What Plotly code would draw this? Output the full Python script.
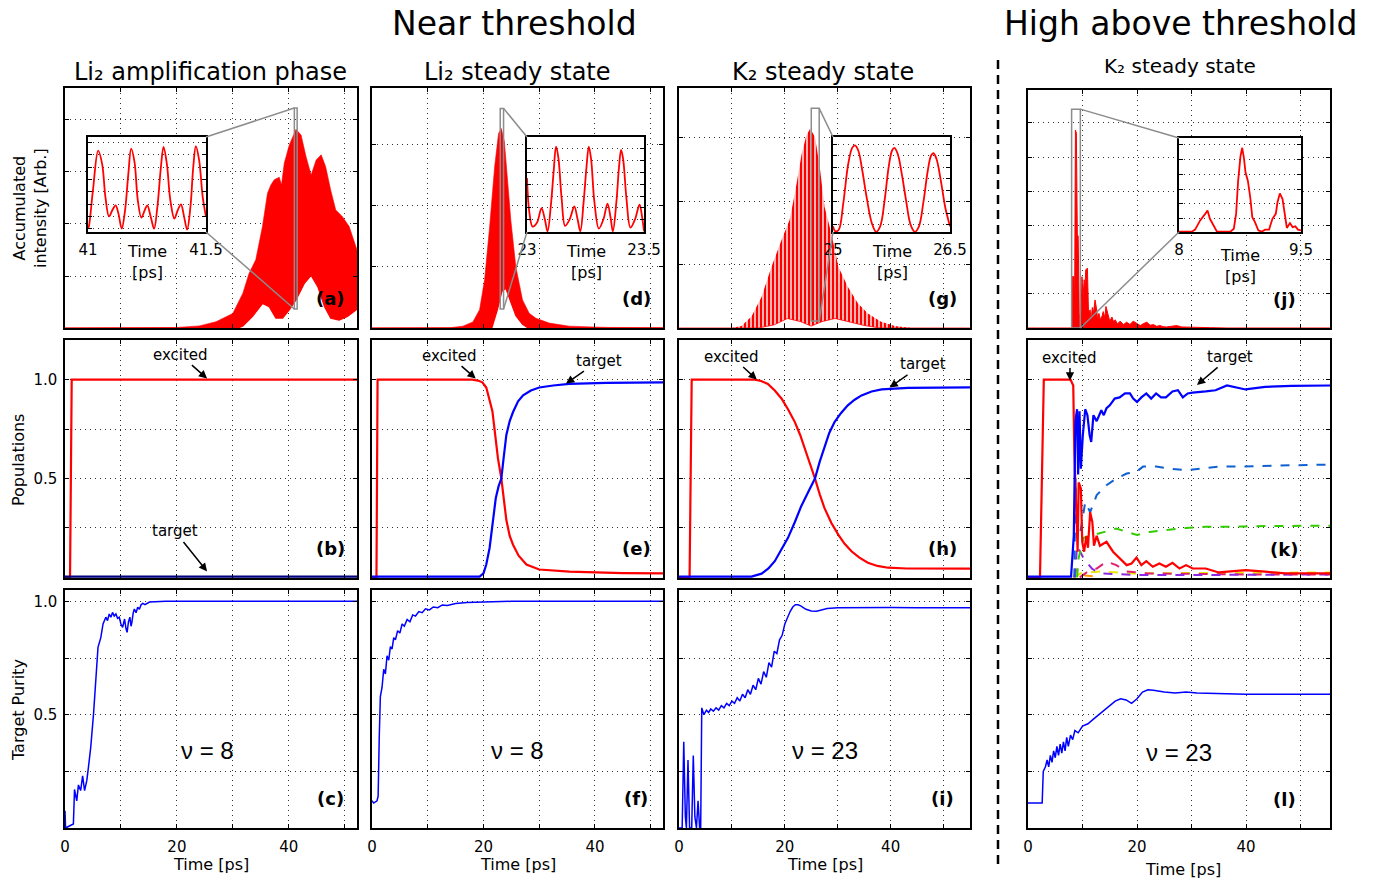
import plotly.graph_objects as go

W, H = 1375, 879
FONT = "DejaVu Sans"

# ---------------------------------------------------------------- data
# Row 1: accumulated intensity (envelopes of the fast oscillation)
A_T_UP = [0, 20, 24.0, 27.0, 30.0, 31.8, 32.9, 34.1, 35.3, 36.2, 36.8, 37.4, 38.3, 38.7, 39.2, 40.1, 41.3, 42.2, 43.1, 44.0, 44.9, 45.8, 46.6, 47.5, 48.4, 49.6, 50.8, 52.0, 52.2]
A_UP = [0, 0.01, 0.04, 0.12, 0.28, 0.67, 1.05, 1.31, 1.95, 2.59, 2.75, 2.85, 2.9, 2.75, 3.17, 3.52, 3.82, 3.71, 3.29, 2.94, 3.23, 3.33, 3.10, 2.65, 2.27, 2.14, 1.95, 1.56, 1.5]
A_T_LO = [0, 31.0, 31.8, 33.5, 35.3, 36.5, 37.7, 38.9, 40.1, 41.3, 42.8, 44.0, 45.2, 46.4, 47.5, 49.0, 50.5, 52.0, 52.2]
A_LO = [0, 0, 0.04, 0.22, 0.47, 0.41, 0.19, 0.19, 0.35, 0.54, 0.86, 1.01, 0.79, 0.41, 0.19, 0.15, 0.22, 0.35, 0.36]

D_T_UP = [0, 14, 16.3, 18.1, 19.3, 20.2, 21.1, 22.0, 22.7, 23.2, 23.75, 24.3, 24.9, 25.8, 27.0, 28.2, 29.4, 31.8, 35.4, 42, 52.2]
D_UP = [0, 0.005, 0.03, 0.1, 0.3, 0.79, 1.66, 2.64, 3.19, 3.27, 3.05, 2.43, 1.77, 1.0, 0.46, 0.24, 0.16, 0.08, 0.03, 0.01, 0.005]
D_T_LO = [0, 21.5, 22.5, 23.3, 24.0, 24.8, 25.8, 27.0, 28.0, 52.2]
D_LO = [0, 0, 0.3, 0.6, 0.65, 0.45, 0.2, 0.06, 0, 0]

G_T_UP = [0, 10, 11.8, 13.7, 15.6, 17.5, 19.4, 20.9, 21.9, 23.2, 24.1, 24.8, 25.7, 26.6, 27.5, 28.8, 30.1, 31.9, 33.8, 35.7, 38.2, 40.8, 44, 55]
G_UP = [0, 0, 0.03, 0.18, 0.49, 0.97, 1.39, 1.7, 2.12, 2.75, 3.04, 3.14, 3.01, 2.54, 1.91, 1.49, 0.97, 0.65, 0.39, 0.23, 0.1, 0.03, 0.0, 0]
G_T_LO = [0, 15, 18, 20.5, 23, 25, 27, 29.5, 32, 35, 38, 55]
G_LO = [0, 0, 0.05, 0.15, 0.1, 0.03, 0.1, 0.15, 0.1, 0.04, 0, 0]

J_T = [0, 8.0, 8.1, 8.2, 8.45, 8.55, 8.7, 8.87, 8.95, 9.05, 9.2, 9.3, 9.4, 9.66, 9.8, 9.9, 10.1, 10.3, 10.45, 10.6, 10.9, 11.0, 11.1, 11.4, 11.6, 11.8, 12.0, 12.3, 12.6, 12.8, 13.0, 13.3, 13.6, 13.8, 14.1, 14.3, 14.7, 15.0, 15.4, 15.7, 16.0, 16.4, 16.9, 17.5, 18.1, 18.7, 19.3, 20.0, 20.6, 21.2, 21.8, 22.4, 23.0, 23.6, 24.2, 24.8, 25.4, 26.3, 27.3, 28.2, 29.1, 30.3, 31.6, 33.5, 36.5, 55.4]
J_V = [0, 0, 1.5, 1.5, 1.5, 0.6, 5.79, 5.7, 3.5, 2.72, 2.7, 1.2, 0.43, 0.0, 0.9, 1.5, 0.9, 1.41, 1.2, 1.7, 1.75, 0.9, 0.43, 0.53, 0.24, 0.6, 0.43, 0.82, 0.53, 0.2, 0.43, 0.24, 0.35, 0.48, 0.3, 0.63, 0.34, 0.2, 0.32, 0.18, 0.24, 0.12, 0.2, 0.1, 0.17, 0.1, 0.2, 0.12, 0.07, 0.13, 0.17, 0.08, 0.1, 0.05, 0.07, 0.04, 0.03, 0.05, 0.07, 0.03, 0.03, 0.025, 0.02, 0.01, 0.0, 0.0]

# Insets (zoom of the fast oscillation)
IA_T = [41.0, 41.003, 41.021, 41.043, 41.06, 41.074, 41.089, 41.103, 41.117, 41.129, 41.143, 41.157, 41.171, 41.183, 41.197, 41.211, 41.226, 41.24, 41.251, 41.266, 41.28, 41.294, 41.309, 41.32, 41.334, 41.349, 41.366, 41.38, 41.394, 41.406, 41.42, 41.434, 41.446, 41.457, 41.471, 41.486, 41.5]
IA_V = [0.3, 0.4, 3.4, 6.6, 5.5, 2.8, 1.27, 1.76, 2.16, 1.49, 0.27, 1.76, 4.73, 6.76, 5.68, 2.57, 1.16, 1.76, 2.16, 1.22, 0.27, 2.03, 5.27, 6.89, 5.54, 2.57, 1.08, 1.76, 2.24, 1.35, 0.19, 2.03, 5.27, 6.95, 5.81, 2.84, 1.22]

ID_T = [23.0, 23.01, 23.024, 23.043, 23.062, 23.076, 23.088, 23.102, 23.114, 23.124, 23.134, 23.148, 23.163, 23.183, 23.202, 23.216, 23.228, 23.242, 23.254, 23.264, 23.274, 23.288, 23.307, 23.327, 23.344, 23.357, 23.367, 23.382, 23.393, 23.402, 23.411, 23.425, 23.442, 23.462, 23.481, 23.491, 23.5]
ID_V = [4.58, 1.68, 0.46, 0.81, 2.03, 1.1, 0.05, 2.26, 5.16, 7.25, 6.32, 2.84, 0.52, 1.1, 2.17, 1.1, 0.06, 2.55, 5.45, 7.25, 6.17, 2.55, 0.29, 1.1, 2.41, 1.25, 0.06, 2.55, 5.45, 6.96, 6.17, 2.84, 0.38, 1.1, 2.32, 1.39, 0.06]

IG_T = [25.0, 25.03, 25.074, 25.13, 25.195, 25.246, 25.281, 25.324, 25.376, 25.432, 25.497, 25.553, 25.605, 25.661, 25.713, 25.757, 25.787, 25.83, 25.886, 25.938, 25.994, 26.05, 26.102, 26.158, 26.215, 26.258, 26.288, 26.327, 26.383, 26.44, 26.5]
IG_V = [0.5, 0.06, 0.2, 2.41, 5.94, 7.35, 7.56, 7.12, 5.35, 3.0, 0.79, 0.02, 0.5, 2.71, 5.65, 7.12, 7.35, 6.82, 4.91, 2.71, 0.65, 0.02, 0.5, 2.56, 5.35, 6.68, 6.88, 6.38, 4.47, 2.12, 0.5]

IJ_T = [8.0, 8.157, 8.198, 8.26, 8.322, 8.351, 8.38, 8.426, 8.467, 8.632, 8.674, 8.702, 8.727, 8.756, 8.777, 8.798, 8.818, 8.847, 8.876, 8.901, 8.934, 8.975, 9.017, 9.058, 9.107, 9.149, 9.19, 9.211, 9.24, 9.273, 9.306, 9.326, 9.364, 9.397, 9.43, 9.463, 9.5]
IJ_V = [0.02, 0.02, 0.16, 0.78, 1.22, 1.44, 0.89, 0.44, 0.02, 0.02, 0.22, 1.22, 3.44, 5.11, 5.67, 5.0, 4.0, 3.44, 2.33, 1.0, 0.67, 0.11, 0.02, 0.16, 0.16, 0.89, 1.22, 2.0, 2.6, 2.22, 1.0, 0.27, 0.6, 0.33, 0.38, 0.16, 0.11]

# Row 2: populations
B_T_EXC = [0, 0.9, 1.2, 52.2]
B_EXC = [0, 0, 1, 1]
B_T_TGT = [0, 52.2]
B_TGT = [0.004, 0.004]

E_T_EXC = [0, 0.8, 1.0, 18.0, 19.0, 19.8, 20.5, 21.1, 21.6, 22.1, 22.6, 23.2, 23.7, 24.1, 24.7, 25.3, 26.3, 27.7, 30, 35.4, 45, 52.2]
E_EXC = [0, 0, 1, 1, 0.995, 0.986, 0.96, 0.9, 0.84, 0.72, 0.6, 0.5, 0.38, 0.29, 0.21, 0.165, 0.11, 0.065, 0.04, 0.029, 0.022, 0.02]
E_T_TGT = [0, 19.3, 20.0, 20.5, 21.1, 21.7, 22.2, 22.7, 23.2, 23.6, 24.1, 24.7, 25.3, 26.2, 27.1, 28.5, 30, 32.5, 35.4, 42, 52.2]
E_TGT = [0.004, 0.004, 0.02, 0.065, 0.15, 0.28, 0.4, 0.46, 0.5, 0.6, 0.72, 0.79, 0.836, 0.89, 0.92, 0.945, 0.96, 0.97, 0.978, 0.983, 0.986]

H_T_EXC = [0, 2.0, 2.4, 14.3, 15.5, 16.8, 18.1, 19.4, 20.6, 21.9, 22.9, 23.8, 24.8, 25.7, 26.6, 27.5, 28.8, 30.1, 31.3, 32.6, 34.1, 35.7, 37.5, 39.5, 43, 55]
H_EXC = [0, 0, 1.0, 1.0, 0.993, 0.978, 0.945, 0.903, 0.85, 0.785, 0.72, 0.652, 0.575, 0.5, 0.42, 0.35, 0.275, 0.216, 0.17, 0.132, 0.1, 0.074, 0.058, 0.049, 0.045, 0.044]
H_T_TGT = [0, 13.7, 15.6, 16.9, 18.1, 19.4, 20.6, 21.9, 23.1, 24.4, 25.7, 26.6, 27.5, 28.4, 29.4, 30.6, 31.9, 33.2, 34.5, 36.4, 38.3, 43.3, 55]
H_TGT = [0.004, 0.004, 0.019, 0.045, 0.082, 0.14, 0.2, 0.28, 0.36, 0.43, 0.5, 0.585, 0.66, 0.73, 0.785, 0.83, 0.87, 0.898, 0.92, 0.94, 0.95, 0.958, 0.961]

K_T_EXC = [0, 2.2, 2.9, 7.8, 8.3, 8.5, 8.85, 9.1, 9.3, 9.7, 9.95, 10.3, 10.7, 11.0, 11.4, 11.8, 12.1, 12.6, 13.2, 14.4, 15.6, 16.8, 18.1, 19.0, 19.9, 20.8, 21.7, 22.9, 24.1, 25.3, 26.5, 27.8, 29.0, 30.2, 32.6, 35.0, 37.5, 39.9, 43.5, 47.2, 55.4]
K_EXC = [0, 0, 1.0, 1.0, 0.97, 0.63, 0.35, 0.13, 0.48, 0.45, 0.18, 0.13, 0.21, 0.15, 0.33, 0.28, 0.16, 0.21, 0.16, 0.18, 0.13, 0.096, 0.062, 0.07, 0.10, 0.062, 0.082, 0.054, 0.07, 0.054, 0.074, 0.045, 0.062, 0.045, 0.045, 0.025, 0.032, 0.037, 0.029, 0.02, 0.02]
K_T_TGT = [0, 7.9, 8.4, 8.7, 9.0, 9.2, 9.45, 9.7, 10.06, 10.5, 10.9, 11.3, 11.6, 12.0, 12.6, 13.0, 13.45, 13.9, 14.4, 15.0, 15.9, 16.8, 17.8, 18.7, 19.3, 20.0, 20.8, 21.7, 22.6, 23.5, 24.4, 25.3, 26.5, 27.5, 28.4, 29.3, 30.2, 32.6, 34.4, 36.5, 38.7, 39.9, 43.5, 48.4, 55.4]
K_TGT = [0.004, 0.004, 0.21, 0.79, 0.85, 0.52, 0.84, 0.55, 0.72, 0.85, 0.82, 0.72, 0.685, 0.82, 0.79, 0.82, 0.845, 0.82, 0.855, 0.87, 0.904, 0.91, 0.93, 0.93, 0.904, 0.887, 0.91, 0.93, 0.904, 0.93, 0.91, 0.91, 0.94, 0.946, 0.91, 0.93, 0.934, 0.94, 0.946, 0.97, 0.955, 0.95, 0.963, 0.968, 0.97]
K_T_DB = [8.5, 8.7, 9.1, 9.6, 10.5, 11.4, 12.6, 14.4, 16.2, 18.1, 19.9, 21.1, 23.5, 25.9, 29.0, 31.4, 35, 38.7, 43.5, 48.4, 55.4]
K_DB = [0.0, 0.5, 0.21, 0.23, 0.38, 0.33, 0.416, 0.466, 0.5, 0.525, 0.534, 0.56, 0.56, 0.55, 0.542, 0.55, 0.56, 0.56, 0.564, 0.567, 0.57]
K_T_GR = [9.0, 9.3, 10.2, 12.0, 13.8, 16.2, 18.1, 20.0, 22.3, 25.3, 29.0, 32.6, 37.5, 43.5, 55.4]
K_GR = [0.0, 0.1, 0.2, 0.214, 0.23, 0.247, 0.23, 0.214, 0.23, 0.24, 0.25, 0.256, 0.256, 0.26, 0.261]
K_T_PU = [8.6, 9.0, 10.2, 11.7, 13.2, 20, 30, 40, 55.4]
K_PU = [0.0, 0.16, 0.096, 0.045, 0.02, 0.012, 0.012, 0.013, 0.015]
K_T_PK = [9.5, 11.0, 12.6, 14.4, 16.2, 18.1, 22, 30, 40, 55.4]
K_PK = [0.0, 0.03, 0.045, 0.08, 0.062, 0.03, 0.02, 0.018, 0.015, 0.015]
K_T_YE = [8.5, 9.6, 13.2, 19.3, 30, 40, 55.4]
K_YE = [0.0, 0.02, 0.03, 0.02, 0.022, 0.024, 0.025]
K_T_OR = [8.3, 9.0, 9.5, 10.5, 12]
K_OR = [0.0, 0.04, 0.02, 0.01, 0.005]

# Row 3: target purity
C_T = [0, 0.1, 1.5, 1.7, 2.1, 2.4, 2.8, 3.15, 3.5, 3.9, 4.2, 4.6, 5.1, 5.5, 5.9, 6.4, 6.8, 7.3, 7.6, 7.9, 8.2, 8.5, 8.8, 9.1, 9.4, 9.7, 10.0, 10.3, 10.65, 10.9, 11.1, 11.35, 11.6, 11.8, 11.96, 12.2, 12.4, 12.7, 13.0, 13.3, 13.6, 13.9, 14.3, 15.1, 18, 52.2]
C_V = [0.076, 0, 0.018, 0.17, 0.12, 0.19, 0.165, 0.23, 0.165, 0.21, 0.27, 0.356, 0.503, 0.68, 0.797, 0.84, 0.9, 0.93, 0.915, 0.944, 0.93, 0.951, 0.935, 0.944, 0.925, 0.93, 0.9, 0.885, 0.922, 0.88, 0.863, 0.91, 0.93, 0.89, 0.907, 0.95, 0.966, 0.95, 0.974, 0.965, 0.985, 0.991, 0.985, 0.997, 1.0, 1.0]

F_T = [0, 0.3, 0.9, 1.1, 1.3, 1.5, 1.8, 2.1, 2.4, 2.7, 3.0, 3.3, 3.6, 3.9, 4.2, 4.6, 5.0, 5.4, 5.8, 6.3, 6.8, 7.3, 7.8, 8.4, 9.0, 9.6, 10.3, 11, 11.8, 12.6, 13.5, 15, 17, 20, 25, 52.2]
F_V = [0.12, 0.11, 0.12, 0.14, 0.4, 0.58, 0.62, 0.7, 0.68, 0.76, 0.74, 0.8, 0.79, 0.84, 0.83, 0.87, 0.86, 0.9, 0.89, 0.92, 0.91, 0.94, 0.935, 0.955, 0.95, 0.967, 0.962, 0.975, 0.972, 0.984, 0.982, 0.99, 0.995, 0.998, 1.0, 1.0]

I_T = [0, 0.6, 0.9, 1.2, 1.4, 1.7, 2.0, 2.4, 2.7, 3.0, 3.3, 3.6, 3.9, 4.1, 4.3, 4.7, 5.2, 5.6, 6.0, 6.5, 7.0, 7.5, 8.0, 8.5, 9.0, 9.5, 10.0, 10.5, 11.0, 11.5, 12.0, 12.5, 13.0, 13.5, 14.0, 14.5, 15.0, 15.5, 16.0, 16.5, 17.0, 17.5, 18.0, 18.5, 19.0, 19.5, 20.0, 20.5, 21.0, 21.5, 22.0, 22.5, 23.0, 24.0, 25.0, 26.0, 27.0, 28.0, 30.0, 33.0, 36.0, 40.0, 45.0, 50.0, 55.0]
I_V = [0.0, 0.0, 0.38, 0.05, 0.0, 0.3, 0.0, 0.0, 0.32, 0.05, 0.0, 0.12, 0.0, 0.0, 0.53, 0.5, 0.52, 0.51, 0.525, 0.515, 0.53, 0.52, 0.54, 0.53, 0.55, 0.54, 0.56, 0.55, 0.575, 0.56, 0.59, 0.575, 0.61, 0.59, 0.63, 0.61, 0.66, 0.635, 0.69, 0.665, 0.73, 0.71, 0.78, 0.77, 0.83, 0.85, 0.9, 0.93, 0.955, 0.975, 0.985, 0.985, 0.98, 0.965, 0.957, 0.956, 0.962, 0.968, 0.972, 0.973, 0.972, 0.973, 0.972, 0.972, 0.972]

L_T = [0, 2.6, 2.8, 3.2, 3.5, 3.8, 4.1, 4.4, 4.7, 5.0, 5.3, 5.6, 5.9, 6.2, 6.5, 6.8, 7.1, 7.4, 7.8, 8.2, 8.6, 9.2, 10, 11, 12, 13, 14, 15, 16, 17, 18, 19, 20, 21, 22, 23, 25, 27, 29, 31, 35, 40, 45, 55.4]
L_V = [0.11, 0.11, 0.25, 0.27, 0.3, 0.27, 0.32, 0.29, 0.34, 0.31, 0.36, 0.32, 0.37, 0.33, 0.38, 0.34, 0.40, 0.36, 0.41, 0.39, 0.43, 0.42, 0.45, 0.46, 0.48, 0.5, 0.52, 0.54, 0.56, 0.57, 0.565, 0.55, 0.57, 0.6, 0.61, 0.608, 0.6, 0.596, 0.6, 0.596, 0.592, 0.59, 0.59, 0.59]

NU_LABELS = ["ν = 8", "ν = 8", "ν = 23", "ν = 23"]
PANEL_LABELS = ["(a)", "(d)", "(g)", "(j)", "(b)", "(e)", "(h)", "(k)", "(c)", "(f)", "(i)", "(l)"]
X_TICKS = [0, 20, 40]
X_MINOR = [10, 30, 50]
P_TICKS = [0.5, 1.0]
P_TICKTEXT = ["0.5", "1.0"]
P_MINOR = [0.25, 0.75]

# zoom windows marked in the main panels
ZOOMS = [
    dict(main=1, t=(41.0, 41.5), y=(0.365, 4.23), ins=13, side="left"),
    dict(main=2, t=(23.0, 23.6), y=(0.31, 3.6), ins=14, side="right"),
    dict(main=3, t=(25.0, 26.5), y=(0.11, 3.46), ins=15, side="right"),
    dict(main=4, t=(8.0, 9.6), y=(0.0, 6.4), ins=16, side="right"),
]

# arrows: (panel, label, head t, head value, text offset x px, text offset y px)
ARROWS = [
    (5, "excited", 25.4, 1.005, -27, -24),
    (5, "target", 25.4, 0.03, -32, -40),
    (6, "excited", 18.6, 1.005, -26, -23),
    (6, "target", 34.8, 0.98, 33, -23),
    (7, "excited", 14.7, 1.0, -25, -23),
    (7, "target", 39.8, 0.96, 33, -23),
    (8, "excited", 7.7, 0.995, 0, -23),
    (8, "target", 31.0, 0.973, 33, -28),
]

# ---------------------------------------------------------------- layout
COLS = [(65, 357), (372, 663), (679, 970), (1028, 1330)]
ROWS = [(88, 328), (340, 578), (590, 828)]
XR = [[0, 52.2], [0, 52.2], [0, 55.0], [0, 55.4]]
YR_ROW1 = [[0, 4.615], [0, 3.934], [0, 3.78], [0, 6.96]]
YT_ROW1 = [[1, 2, 3, 4], [1, 2, 3], [1, 2, 3], [1, 2, 3, 4, 5, 6]]
INSETS = {
    13: dict(box=(88, 137, 206, 232), xr=[41, 41.5], yr=[0, 7.7], yt=[0.25 + k for k in range(8)], tt=["41", "41.5"]),
    14: dict(box=(527, 137, 644, 232), xr=[23, 23.5], yr=[0, 8.06], yt=[1.05 + k for k in range(7)], tt=["23", "23.5"]),
    15: dict(box=(833, 137, 950, 232), xr=[25, 26.5], yr=[0, 8.3], yt=[0.65 + k for k in range(8)], tt=["25", "26.5"]),
    16: dict(box=(1179, 138, 1301, 232), xr=[8, 9.5], yr=[0, 6.33], yt=[0.89 + k for k in range(6)], tt=["8", "9.5"]),
}

fig = go.Figure()
SPEC = {}
LAY = {}
GRIDC = "#333333"
GDASH = "1px,4px"
COMMON = dict(showline=True, linecolor="black", linewidth=1.5, mirror="ticks", ticks="inside",
              ticklen=4, tickwidth=1, tickcolor="black", gridcolor=GRIDC, griddash=GDASH,
              gridwidth=1, zeroline=False, fixedrange=True, automargin=False,
              tickfont=dict(family=FONT, size=15, color="black"))


def minor(vals, grid=True):
    return dict(tickmode="array", tickvals=vals, ticks="inside", ticklen=4, tickcolor="black",
                showgrid=grid, gridcolor=GRIDC, griddash=GDASH, gridwidth=1)


def add_axes(idx, box, xr, yr, xtv, xtt, ytv, ytt, xlab=False, ylab=False, xgrid=True, xmin=None, ymin=None):
    l, t, r, b = box
    xd = [l / W, r / W]
    yd = [1 - b / H, 1 - t / H]
    SPEC[idx] = dict(xd=xd, yd=yd, xr=xr, yr=yr)
    s = "" if idx == 1 else str(idx)
    LAY["xaxis" + s] = dict(COMMON, domain=xd, range=xr, anchor="y" + s, tickmode="array",
                           tickvals=xtv, ticktext=xtt, showticklabels=xlab, showgrid=xgrid,
                           ticklabelstandoff=4)
    LAY["yaxis" + s] = dict(COMMON, domain=yd, range=yr, anchor="x" + s, tickmode="array",
                           tickvals=ytv, ticktext=ytt, showticklabels=ylab, ticklabelstandoff=3)
    if xmin is not None:
        LAY["xaxis" + s]["minor"] = minor(xmin)
    if ymin is not None:
        LAY["yaxis" + s]["minor"] = minor(ymin)


XTT = [str(v) for v in X_TICKS]
for r in range(3):
    for c in range(4):
        idx = r * 4 + c + 1
        top = ROWS[r][0] + (2 if (r == 0 and c == 3) else 0)
        box = (COLS[c][0], top, COLS[c][1], ROWS[r][1])
        if r == 0:
            add_axes(idx, box, XR[c], YR_ROW1[c], X_TICKS, XTT, YT_ROW1[c], [str(v) for v in YT_ROW1[c]],
                     xmin=X_MINOR)
        elif r == 1:
            add_axes(idx, box, XR[c], [-0.003, 1.2], X_TICKS, XTT, P_TICKS, P_TICKTEXT, ylab=(c == 0),
                     xmin=X_MINOR, ymin=P_MINOR)
        else:
            add_axes(idx, box, XR[c], [0, 1.05], X_TICKS, XTT, P_TICKS, P_TICKTEXT, xlab=True, ylab=(c == 0),
                     xmin=X_MINOR, ymin=P_MINOR)

for idx, ins in INSETS.items():
    add_axes(idx, ins["box"], ins["xr"], ins["yr"], ins["xr"], ins["tt"], ins["yt"],
             [str(v) for v in ins["yt"]], xlab=True, xgrid=False)
    LAY["xaxis" + str(idx)].update(ticks="", ticklabelstandoff=3)


def ax(idx):
    s = "" if idx == 1 else str(idx)
    return dict(xaxis="x" + s, yaxis="y" + s)


def to_paper(idx, x, y):
    sp = SPEC[idx]
    fx = sp["xd"][0] + (x - sp["xr"][0]) / (sp["xr"][1] - sp["xr"][0]) * (sp["xd"][1] - sp["xd"][0])
    fy = sp["yd"][0] + (y - sp["yr"][0]) / (sp["yr"][1] - sp["yr"][0]) * (sp["yd"][1] - sp["yd"][0])
    return fx, fy


def from_paper(idx, fx, fy):
    sp = SPEC[idx]
    x = sp["xr"][0] + (fx - sp["xd"][0]) / (sp["xd"][1] - sp["xd"][0]) * (sp["xr"][1] - sp["xr"][0])
    y = sp["yr"][0] + (fy - sp["yd"][0]) / (sp["yd"][1] - sp["yd"][0]) * (sp["yr"][1] - sp["yr"][0])
    return x, y


RED = "#ff0000"
BLUE = "#0000ff"


def line(x, y, idx, color, width=2, dash=None, fill=None, **kw):
    fig.add_trace(go.Scatter(x=x, y=y, mode="lines", line=dict(color=color, width=width, dash=dash),
                             fill=fill, showlegend=False, hoverinfo="skip", **ax(idx), **kw))


# Row 1 -------------------------------------------------------------
line(A_T_LO, A_LO, 1, RED, 1.2)
line(A_T_UP, A_UP, 1, RED, 0.6, fill="tonexty", fillcolor=RED)
line(D_T_LO, D_LO, 2, RED, 1.2)
line(D_T_UP, D_UP, 2, RED, 0.6, fill="tonexty", fillcolor=RED)
line(G_T_LO, G_LO, 3, RED, 0.8)
line(G_T_UP, G_UP, 3, RED, 0, fill="tonexty",
     fillpattern=dict(shape="|", fgcolor=RED, fgopacity=1, bgcolor="white", size=4, solidity=0.65))
line(J_T, J_V, 4, RED, 1, fill="tozeroy", fillcolor=RED)

# insets
for idx, (tx, vy) in zip([13, 14, 15, 16], [(IA_T, IA_V), (ID_T, ID_V), (IG_T, IG_V), (IJ_T, IJ_V)]):
    fig.add_trace(go.Scatter(x=tx, y=vy, mode="lines",
                             line=dict(color=RED, width=1.8, shape="spline" if idx != 16 else "linear"),
                             showlegend=False, hoverinfo="skip", **ax(idx)))

# Row 2 -------------------------------------------------------------
line(B_T_EXC, B_EXC, 5, RED, 2.2)
line(B_T_TGT, B_TGT, 5, "#000080", 2.2)
line(E_T_EXC, E_EXC, 6, RED, 2.2)
line(E_T_TGT, E_TGT, 6, BLUE, 2.2)
line(H_T_EXC, H_EXC, 7, RED, 2.2)
line(H_T_TGT, H_TGT, 7, BLUE, 2.2)
line(K_T_YE, K_YE, 8, "#e8e800", 2, "dash")
line(K_T_OR, K_OR, 8, "#ff9900", 2, "dash")
line(K_T_PK, K_PK, 8, "#e0206e", 2, "dash")
line(K_T_PU, K_PU, 8, "#8a2be2", 2, "dash")
line(K_T_GR, K_GR, 8, "#33cc00", 2, "dash")
line(K_T_DB, K_DB, 8, "#1060d0", 2, "dash")
line(K_T_EXC, K_EXC, 8, RED, 2.2)
line(K_T_TGT, K_TGT, 8, BLUE, 2.2)

# Row 3 -------------------------------------------------------------
line(C_T, C_V, 9, BLUE, 1.5)
line(F_T, F_V, 10, BLUE, 1.5)
line(I_T, I_V, 11, BLUE, 1.5)
line(L_T, L_V, 12, BLUE, 1.5)

# ---------------------------------------------------------------- shapes
shapes = []
GRAY = "#8c8c8c"
for z in ZOOMS:
    m, i = z["main"], z["ins"]
    sfx = "" if m == 1 else str(m)
    l, t, r, b = INSETS[i]["box"]
    x0, y0 = from_paper(m, l / W, 1 - b / H)
    x1, y1 = from_paper(m, r / W, 1 - t / H)
    shapes.append(dict(type="rect", xref="x" + sfx, yref="y" + sfx, x0=x0, x1=x1, y0=y0, y1=y1,
                       fillcolor="white", line=dict(width=0), layer="between"))
    shapes.append(dict(type="rect", xref="x" + sfx, yref="y" + sfx, x0=z["t"][0], x1=z["t"][1],
                       y0=z["y"][0], y1=z["y"][1], line=dict(color=GRAY, width=1.5), layer="above"))
    ixr, iyr = INSETS[i]["xr"], INSETS[i]["yr"]
    if z["side"] == "left":
        pairs = [((z["t"][0], z["y"][1]), (ixr[1], iyr[1])), ((z["t"][0], z["y"][0]), (ixr[1], iyr[0]))]
    else:
        pairs = [((z["t"][1], z["y"][1]), (ixr[0], iyr[1])), ((z["t"][1], z["y"][0]), (ixr[0], iyr[0]))]
    for (mx, my), (ix, iy) in pairs:
        ax0, ay0 = to_paper(m, mx, my)
        ax1, ay1 = to_paper(i, ix, iy)
        shapes.append(dict(type="line", xref="paper", yref="paper", x0=ax0, y0=ay0, x1=ax1, y1=ay1,
                           line=dict(color=GRAY, width=1.5), layer="above"))

shapes.append(dict(type="line", xref="paper", yref="paper", x0=998 / W, x1=998 / W, y0=1 - 60 / H, y1=1 - 870 / H,
                   line=dict(color="black", width=2.5, dash="9px,6px")))

# ---------------------------------------------------------------- annotations
ann = []


def ptext(px, py, text, size=15, family=FONT, **kw):
    ann.append(dict(x=px / W, y=1 - py / H, xref="paper", yref="paper", text=text, showarrow=False,
                    xanchor="center", yanchor="middle", font=dict(family=family, size=size, color="black"), **kw))


ptext(514, 24, "Near threshold", 33)
ptext(1180, 24, "High above threshold", 33)
ptext(210, 72, "Li₂ amplification phase", 24)
ptext(517, 72, "Li₂ steady state", 24)
ptext(823, 72, "K₂ steady state", 24)
ptext(1180, 66, "K₂ steady state", 20)
ptext(30, 208, "Accumulated<br>intensity [Arb.]", 16, textangle=-90)
ptext(18, 460, "Populations", 16, textangle=-90)
ptext(18, 710, "Target Purity", 16, textangle=-90)
for c, (l, r) in enumerate(COLS):
    ptext((l + r) / 2 + (0 if c < 3 else 4), 864 if c < 3 else 869, "Time [ps]", 16)
for idx, ins in INSETS.items():
    l, t, r, b = ins["box"]
    ptext((l + r) / 2, 262 if idx < 16 else 266, "Time<br>[ps]", 16)

LABEL_OFF = [27, 27, 27, 46]
for k, lab in enumerate(PANEL_LABELS):
    r, c = divmod(k, 4)
    px = COLS[c][1] - LABEL_OFF[c]
    py = ROWS[r][1] - (30 if c < 3 else 29)
    ptext(px, py, "<b>" + lab + "</b>", 18)

for c, lab in enumerate(NU_LABELS):
    ptext((COLS[c][0] + COLS[c][1]) / 2 - (4 if c == 0 else 0), 750 if c < 3 else 752, lab, 24,
          family="Liberation Sans")

for idx, txt, hx, hy, axp, ayp in ARROWS:
    sfx = str(idx)
    ann.append(dict(x=hx, y=hy, xref="x" + sfx, yref="y" + sfx, text=txt, showarrow=True,
                    ax=axp, ay=ayp, arrowhead=2, arrowsize=1.1, arrowwidth=1.5, arrowcolor="black",
                    font=dict(family=FONT, size=15, color="black")))

fig.update_layout(
    width=W, height=H, autosize=False,
    margin=dict(l=0, r=0, t=0, b=0),
    paper_bgcolor="white", plot_bgcolor="white",
    font=dict(family=FONT, size=15, color="black"),
    shapes=shapes, annotations=ann, showlegend=False,
    **LAY,
)

fig.write_html("out.html", config={"displayModeBar": False},
               post_script="document.body.style.margin='0';document.body.style.overflow='hidden';")
